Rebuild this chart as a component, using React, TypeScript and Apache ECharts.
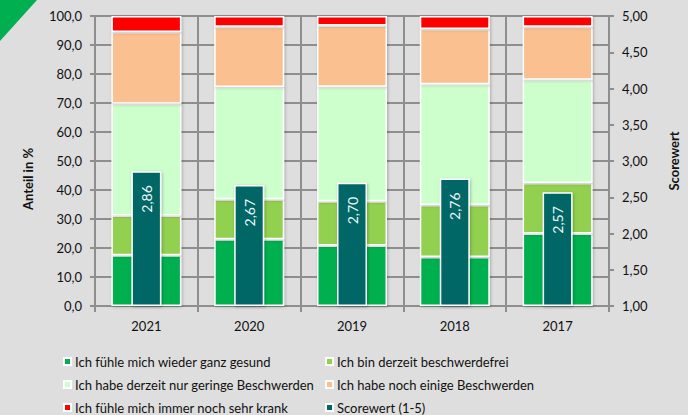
import React, { useEffect, useRef } from "react";
import * as echarts from "echarts";

const years = ["2021", "2020", "2019", "2018", "2017"];
const gesund = [17.5, 23.0, 20.9, 16.9, 25.0];
const beschwerdefrei = [13.7, 13.8, 15.2, 17.9, 17.4];
const geringe = [38.5, 38.7, 39.5, 41.7, 35.6];
const einige = [24.8, 20.8, 21.1, 19.0, 18.3];
const krank = [5.5, 3.7, 3.3, 4.5, 3.7];
const score = [2.86, 2.67, 2.7, 2.76, 2.57];

const seriesNames = [
  "Ich fühle mich wieder ganz gesund",
  "Ich bin derzeit beschwerdefrei",
  "Ich habe derzeit nur geringe Beschwerden",
  "Ich habe noch einige Beschwerden",
  "Ich fühle mich immer noch sehr krank",
  "Scorewert (1-5)",
];
const colors = ["#00b050", "#92d050", "#ccffcc", "#fac090", "#ff0000", "#006666"];

const FONT = "Lato";
const GRID_COLOR = "#8e8e8e";

export default function App() {
  const ref = useRef<HTMLDivElement>(null);
  useEffect(() => {
    if (!ref.current) return;
    const chart = echarts.init(ref.current, null, { renderer: "svg" });
    const stackData = [gesund, beschwerdefrei, geringe, einige, krank];
    const barItemStyle = (c: string) => ({
      color: c,
      borderColor: "#ffffff",
      borderWidth: 1.5,
      shadowBlur: 3,
      shadowColor: "rgba(0,0,0,0.25)",
      shadowOffsetX: 1,
      shadowOffsetY: 1,
    });
    const legendBase = {
      orient: "vertical",
      top: 354,
      padding: 0,
      itemWidth: 7,
      itemHeight: 7,
      itemGap: 8,
      icon: "rect",
      textStyle: { fontFamily: FONT, fontSize: 13, color: "#111", lineHeight: 15, padding: [0, 0, 0, -1] },
    };
    const option: any = {
      animation: false,
      backgroundColor: "#dedede",
      textStyle: { fontFamily: FONT },
      graphic: [
        {
          type: "polygon",
          shape: { points: [[0, 0], [37, 0], [0, 41]] },
          style: { fill: "#00b050" },
        },
        {
          type: "text",
          x: 28,
          y: 179,
          rotation: Math.PI / 2,
          style: {
            text: "Anteil in %",
            fontFamily: FONT,
            fontSize: 13,
            fontWeight: "bold",
            fill: "#111",
            align: "center",
            verticalAlign: "middle",
          },
        },
      ],
      grid: { left: 95, right: 73, top: 16, bottom: 109 },
      legend: [
        { ...legendBase, left: 63, data: [seriesNames[0], seriesNames[2], seriesNames[4]] },
        { ...legendBase, left: 325, data: [seriesNames[1], seriesNames[3], seriesNames[5]] },
      ],
      xAxis: [
        {
          type: "category",
          data: years,
          axisLine: { show: true, lineStyle: { color: GRID_COLOR, width: 2 } },
          axisTick: { show: true, length: 6, lineStyle: { color: GRID_COLOR, width: 2 } },
          splitLine: { show: true, lineStyle: { color: GRID_COLOR, width: 2 } },
          axisLabel: { fontFamily: FONT, fontSize: 13, color: "#111", margin: 13 },
        },
        {
          type: "category",
          data: years,
          show: false,
        },
      ],
      yAxis: [
        {
          type: "value",
          min: 0,
          max: 100,
          interval: 10,
          axisLine: { show: true, lineStyle: { color: GRID_COLOR, width: 2 } },
          axisTick: { show: true, length: 5, lineStyle: { color: GRID_COLOR, width: 2 } },
          splitLine: { show: true, lineStyle: { color: GRID_COLOR, width: 2 } },
          axisLabel: {
            fontFamily: FONT,
            fontSize: 13,
            color: "#111",
            margin: 13,
            formatter: (v: number) => v.toFixed(1).replace(".", ","),
          },
        },
        {
          type: "value",
          min: 1,
          max: 5,
          interval: 0.5,
          startValue: 1,
          position: "right",
          name: "Scorewert",
          nameLocation: "middle",
          nameGap: 58,
          nameRotate: 90,
          nameTextStyle: { fontFamily: FONT, fontSize: 13, fontWeight: "bold", color: "#111" },
          axisLine: { show: true, lineStyle: { color: GRID_COLOR, width: 2 } },
          axisTick: { show: true, length: 5, lineStyle: { color: GRID_COLOR, width: 2 } },
          splitLine: { show: false },
          axisLabel: {
            fontFamily: FONT,
            fontSize: 13,
            color: "#111",
            margin: 13,
            formatter: (v: number) => v.toFixed(2).replace(".", ","),
          },
        },
      ],
      series: [
        ...stackData.map((d, i) => ({
          name: seriesNames[i],
          type: "bar",
          stack: "anteil",
          xAxisIndex: 0,
          yAxisIndex: 0,
          barWidth: 70,
          data: d,
          itemStyle: barItemStyle(colors[i]),
        })),
        {
          name: seriesNames[5],
          type: "bar",
          xAxisIndex: 1,
          yAxisIndex: 1,
          barWidth: 30,
          data: score,
          clip: true,
          itemStyle: barItemStyle(colors[5]),
          label: {
            show: true,
            position: "insideTop",
            distance: 14,
            rotate: 90,
            align: "right",
            verticalAlign: "middle",
            fontFamily: FONT,
            fontSize: 14,
            color: "#f0f8f8",
            formatter: (p: any) => p.value.toFixed(2).replace(".", ","),
          },
          z: 5,
        },
      ],
    };
    chart.setOption(option);
    return () => chart.dispose();
  }, []);
  return (
    <div
      ref={ref}
      style={{ position: "fixed", left: 0, top: 0, width: 688, height: 415 }}
    />
  );
}
